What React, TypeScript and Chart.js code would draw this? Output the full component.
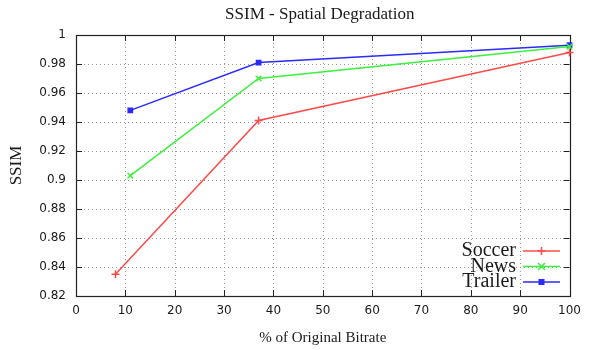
import React, { useEffect, useRef } from "react";
import { Chart, registerables } from "chart.js";

Chart.register(...registerables);

const titleText = "SSIM - Spatial Degradation";
const xTitle = "% of Original Bitrate";
const yTitle = "SSIM";

const soccerX = [8, 37, 100];
const soccerY = [0.835, 0.941, 0.988];
const newsX = [11, 37, 100];
const newsY = [0.903, 0.97, 0.992];
const trailerX = [11, 37, 100];
const trailerY = [0.948, 0.981, 0.993];

const seriesNames = ["Soccer", "News", "Trailer"];
const seriesColors = ["#ff4a4a", "#3cf03c", "#2a2aff"];
const seriesStyles = ["cross", "crossRot", "rect"];

const serif = "'Liberation Serif', 'DejaVu Serif', serif";
const sans = "'DejaVu Sans', sans-serif";

const frame = {
  id: "frame",
  beforeDatasetsDraw(chart: any) {
    const { ctx, chartArea: a, scales } = chart;
    const xs = scales.x, ys = scales.y;
    ctx.save();
    ctx.strokeStyle = "#9a9a9a";
    ctx.lineWidth = 1;
    ctx.setLineDash([1, 3]);
    xs.ticks.forEach((t: any) => {
      const px = Math.round(xs.getPixelForValue(t.value)) + 0.5;
      if (px <= a.left + 1 || px >= a.right - 1) return;
      ctx.beginPath();
      ctx.moveTo(px, a.top);
      ctx.lineTo(px, a.bottom);
      ctx.stroke();
    });
    ys.ticks.forEach((t: any) => {
      const py = Math.round(ys.getPixelForValue(t.value)) + 0.5;
      if (py <= a.top + 1 || py >= a.bottom - 1) return;
      ctx.beginPath();
      ctx.moveTo(a.left, py);
      ctx.lineTo(a.right, py);
      ctx.stroke();
    });
    ctx.setLineDash([]);
    ctx.strokeStyle = "#222";
    const tl = 6;
    xs.ticks.forEach((t: any) => {
      const px = Math.round(xs.getPixelForValue(t.value)) + 0.5;
      ctx.beginPath();
      ctx.moveTo(px, a.bottom);
      ctx.lineTo(px, a.bottom - tl);
      ctx.moveTo(px, a.top);
      ctx.lineTo(px, a.top + tl);
      ctx.stroke();
    });
    ys.ticks.forEach((t: any) => {
      const py = Math.round(ys.getPixelForValue(t.value)) + 0.5;
      ctx.beginPath();
      ctx.moveTo(a.left, py);
      ctx.lineTo(a.left + tl, py);
      ctx.moveTo(a.right, py);
      ctx.lineTo(a.right - tl, py);
      ctx.stroke();
    });
    ctx.lineWidth = 1.2;
    ctx.strokeRect(Math.round(a.left) + 0.5, Math.round(a.top) + 0.5, Math.round(a.right - a.left), Math.round(a.bottom - a.top));
    ctx.restore();
  },
  afterDraw(chart: any) {
    const { ctx, chartArea: a } = chart;
    const cx0 = (a.left + a.right) / 2;
    ctx.save();
    ctx.fillStyle = "#1a1a1a";
    ctx.textAlign = "center";
    ctx.textBaseline = "middle";
    ctx.font = `17px ${serif}`;
    ctx.fillText(titleText, cx0 - 3, 15);
    ctx.font = `15px ${serif}`;
    ctx.fillText(xTitle, cx0, 338);
    ctx.save();
    ctx.translate(17, (a.top + a.bottom) / 2);
    ctx.rotate(-Math.PI / 2);
    ctx.font = `17px ${serif}`;
    ctx.fillText(yTitle, 0, 0);
    ctx.restore();
    const rows = [251, 266.5, 282];
    ctx.font = `20px ${serif}`;
    ctx.textAlign = "right";
    chart.data.datasets.forEach((ds: any, i: number) => {
      const y = rows[i];
      ctx.fillStyle = "#1a1a1a";
      ctx.fillText(ds.label, 516, y);
      ctx.strokeStyle = ds.borderColor;
      ctx.lineWidth = 1.5;
      ctx.beginPath();
      ctx.moveTo(523, y);
      ctx.lineTo(560, y);
      ctx.stroke();
      const cx = 541.5;
      ctx.beginPath();
      if (i === 0) {
        ctx.moveTo(cx, y - 4); ctx.lineTo(cx, y + 4);
        ctx.moveTo(cx - 4, y); ctx.lineTo(cx + 4, y);
        ctx.stroke();
      } else if (i === 1) {
        ctx.moveTo(cx - 3.5, y - 3.5); ctx.lineTo(cx + 3.5, y + 3.5);
        ctx.moveTo(cx + 3.5, y - 3.5); ctx.lineTo(cx - 3.5, y + 3.5);
        ctx.stroke();
      } else {
        ctx.fillStyle = ds.borderColor;
        ctx.fillRect(cx - 3, y - 3, 6, 6);
      }
    });
    ctx.restore();
  },
};

export default function App() {
  const ref = useRef<HTMLCanvasElement>(null);
  useEffect(() => {
    document.body.style.margin = "0";
    const mk = (xs: number[], ys: number[]) => xs.map((x, i) => ({ x, y: ys[i] }));
    const data = [mk(soccerX, soccerY), mk(newsX, newsY), mk(trailerX, trailerY)];
    const chart = new Chart(ref.current!, {
      type: "line",
      data: {
        datasets: data.map((d, i) => ({
          label: seriesNames[i],
          data: d,
          borderColor: seriesColors[i],
          backgroundColor: seriesColors[i],
          borderWidth: 1.5,
          pointStyle: seriesStyles[i] as any,
          pointRadius: i === 2 ? 3 : 4,
          pointBorderWidth: 1.5,
          fill: false,
          tension: 0,
          clip: false as any,
        })),
      },
      options: {
        responsive: false,
        animation: false,
        layout: { padding: { top: 35, right: 13, left: 0, bottom: 0 } },
        plugins: { legend: { display: false }, title: { display: false }, tooltip: { enabled: false } },
        scales: {
          x: {
            type: "linear",
            min: 0,
            max: 100,
            ticks: { stepSize: 10, padding: 8, color: "#1a1a1a", font: { family: sans, size: 12 } },
            grid: { display: false, drawTicks: false },
            border: { display: false },
            afterFit: (s: any) => { s.height = 54; },
          },
          y: {
            type: "linear",
            min: 0.82,
            max: 1,
            ticks: {
              stepSize: 0.02,
              padding: 10,
              color: "#1a1a1a",
              font: { family: sans, size: 12 },
              callback: (v: any) => String(Number(Number(v).toFixed(2))),
            },
            grid: { display: false, drawTicks: false },
            border: { display: false },
            afterFit: (s: any) => { s.width = 76; },
          },
        },
      },
      plugins: [frame],
    });
    return () => chart.destroy();
  }, []);
  return (
    <div style={{ position: "fixed", left: 0, top: 0, width: 589, height: 350, background: "#fff" }}>
      <canvas ref={ref} width={589} height={350} style={{ display: "block" }} />
    </div>
  );
}
